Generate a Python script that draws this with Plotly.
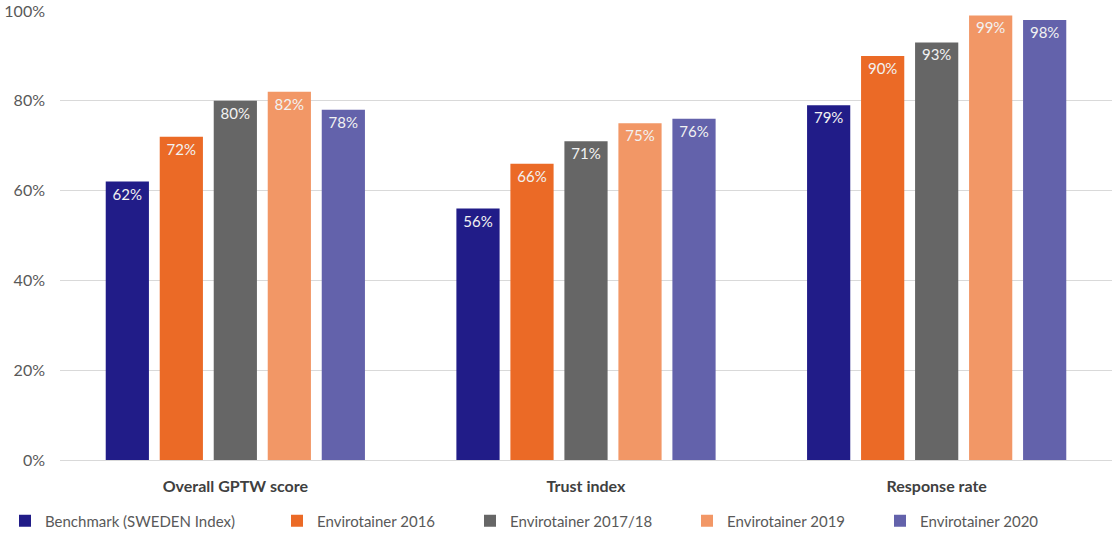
import plotly.graph_objects as go

categories = ["Overall GPTW score", "Trust index", "Response rate"]
series_names = ["Benchmark (SWEDEN Index)", "Envirotainer 2016", "Envirotainer 2017/18",
                "Envirotainer 2019", "Envirotainer 2020"]
benchmark = [0.62, 0.56, 0.79]
env_2016 = [0.72, 0.66, 0.90]
env_2017 = [0.80, 0.71, 0.93]
env_2019 = [0.82, 0.75, 0.99]
env_2020 = [0.78, 0.76, 0.98]
tick_vals = [0, 0.2, 0.4, 0.6, 0.8, 1.0]
tick_text = ["0%", "20%", "40%", "60%", "80%", "100%"]

colors = ["#211C88", "#EB6A26", "#666666", "#F29766", "#6362AB"]
all_values = [benchmark, env_2016, env_2017, env_2019, env_2020]

font_family = "Lato, Open Sans, sans-serif"
L, R, T, B = 60, 1, 11, 75
W = 1113 - L - R
H = 535 - T - B
legend_text_px = [45, 317, 510, 727, 920]
legend_y_px = 521

fig = go.Figure()
legend_layouts = {}
for i, (name, vals, col) in enumerate(zip(series_names, all_values, colors)):
    lname = "legend" if i == 0 else f"legend{i+1}"
    fig.add_trace(go.Bar(
        x=categories, y=vals, name=name,
        marker=dict(color=col, line=dict(width=0)),
        text=[f"{round(v*100)}%" for v in vals],
        textposition="inside", insidetextanchor="end",
        textfont=dict(color="#F2F2F2", size=15, family=font_family),
        textangle=0, legend=lname,
    ))
    legend_layouts[lname] = dict(
        orientation="h", xref="paper", yref="paper",
        x=(legend_text_px[i] - 40 - L) / W, xanchor="left",
        y=-(legend_y_px - (T + H)) / H, yanchor="middle",
        font=dict(size=15, color="#595959", family=font_family),
        itemwidth=30, bgcolor="rgba(0,0,0,0)",
    )

fig.update_layout(
    width=1113, height=535,
    margin=dict(l=L, r=R, t=T, b=B, autoexpand=False),
    paper_bgcolor="white", plot_bgcolor="white",
    barmode="group", bargap=0.23, bargroupgap=0.2,
    font=dict(family=font_family, color="#595959", size=15),
    showlegend=True,
    xaxis=dict(showline=True, linecolor="#D9D9D9", linewidth=1,
               tickfont=dict(size=16, color="#404040", family=font_family),
               ticks="", ticklabelstandoff=12),
    yaxis=dict(range=[0, 1.0], tickvals=tick_vals, ticktext=tick_text,
               showgrid=True, gridcolor="#D9D9D9", gridwidth=1,
               zeroline=False, ticks="", ticklabelstandoff=14,
               tickfont=dict(size=16, color="#595959")),
    **legend_layouts,
)
fig.update_xaxes(tickvals=categories, ticktext=[f"<b>{c}</b>" for c in categories])
fig.write_html("out.html")
